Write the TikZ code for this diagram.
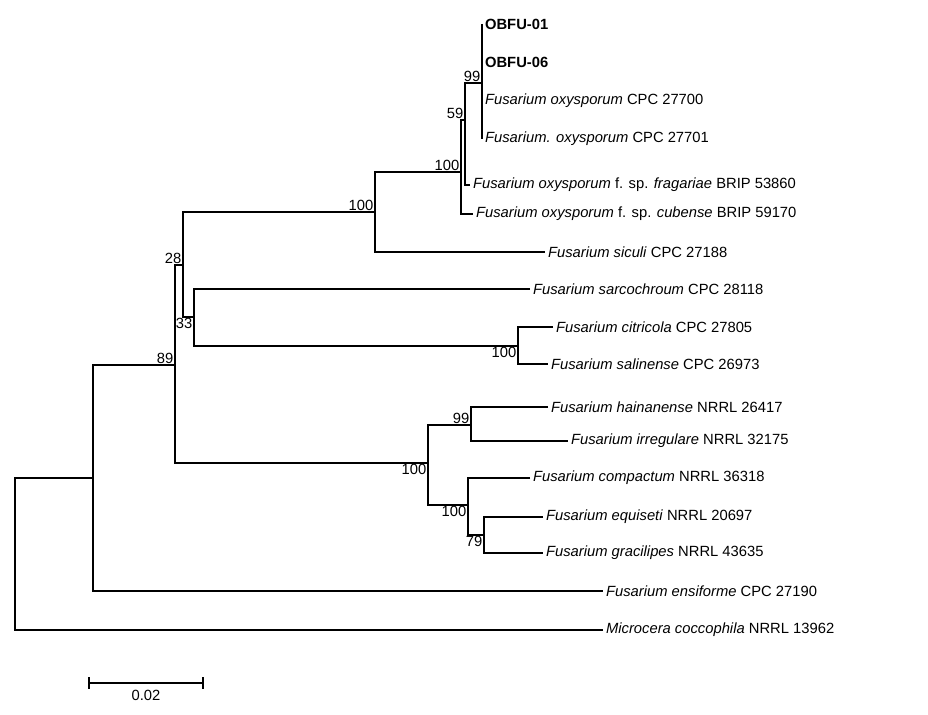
\documentclass[tikz,border=0pt]{standalone}
\usepackage{fontspec}
\setmainfont{Liberation Sans}
\usetikzlibrary{calc}
\tikzset{
  br/.style={line width=0.9pt},
  leaf/.style={anchor=west, inner sep=2pt, font=\fontsize{10.5}{12}\selectfont},
  bs/.style={inner sep=1pt, font=\fontsize{10.5}{12}\selectfont}
}
\begin{document}
\begin{tikzpicture}[x=0.025cm,y=-0.025cm]
\useasboundingbox (0,0) rectangle (928,715);
% internal nodes
\coordinate (r) at (15,554);
\coordinate (n93) at (93,478);
\coordinate (n175) at (175,365);
\coordinate (n183) at (183,265);
\coordinate (n375) at (375,212);
\coordinate (nA) at (461,172);
\coordinate (n465) at (465,120);
\coordinate (n482) at (482,83);
\coordinate (n194) at (194,317);
\coordinate (n518) at (518,346);
\coordinate (n428) at (428,463);
\coordinate (n471) at (471,425);
\coordinate (n468) at (468,505);
\coordinate (n484) at (484,535);
% tips
\coordinate (t1) at (482,24);
\coordinate (t2) at (482,62);
\coordinate (t3) at (482,101);
\coordinate (t4) at (482,139);
\coordinate (t5) at (470,185);
\coordinate (t6) at (473,214);
\coordinate (t7) at (545,252);
\coordinate (t8) at (530,289);
\coordinate (t9) at (553,327);
\coordinate (t10) at (548,364);
\coordinate (t11) at (548,407);
\coordinate (t12) at (568,441);
\coordinate (t13) at (530,478);
\coordinate (t14) at (543,517);
\coordinate (t15) at (543,553);
\coordinate (t16) at (603,591);
\coordinate (t17) at (603,630);
% branches
\draw[br] (n93) -| (r) |- (t17);
\draw[br] (n175) -| (n93) |- (t16);
\draw[br] (n183) -| (n175) |- (n428);
\draw[br] (n375) -| (n183) |- (n194);
\draw[br] (nA) -| (n375) |- (t7);
\draw[br] (n465) -| (nA) |- (t6);
\draw[br] (n482) -| (n465) |- (t5);
\draw[br] (t1) -- (t4);
\draw[br] (t8) -| (n194) |- (n518);
\draw[br] (t9) -| (n518) |- (t10);
\draw[br] (n471) -| (n428) |- (n468);
\draw[br] (t11) -| (n471) |- (t12);
\draw[br] (t13) -| (n468) |- (n484);
\draw[br] (t14) -| (n484) |- (t15);
% tip labels
\node[leaf] (l1) at (t1) {\textbf{OBFU-01}};
\node[leaf] (l2) at (t2) {\textbf{OBFU-06}};
\node[leaf] (l3) at (t3) {\textit{Fusarium oxysporum} CPC 27700};
\node[leaf] (l4) at (t4) {\textit{Fusarium. oxysporum} CPC 27701};
\node[leaf] (l5) at (t5) {\textit{Fusarium oxysporum} f. sp. \textit{fragariae} BRIP 53860};
\node[leaf] (l6) at (t6) {\textit{Fusarium oxysporum} f. sp. \textit{cubense} BRIP 59170};
\node[leaf] (l7) at (t7) {\textit{Fusarium siculi} CPC 27188};
\node[leaf] (l8) at (t8) {\textit{Fusarium sarcochroum} CPC 28118};
\node[leaf] (l9) at (t9) {\textit{Fusarium citricola} CPC 27805};
\node[leaf] (l10) at (t10) {\textit{Fusarium salinense} CPC 26973};
\node[leaf] (l11) at (t11) {\textit{Fusarium hainanense} NRRL 26417};
\node[leaf] (l12) at (t12) {\textit{Fusarium irregulare} NRRL 32175};
\node[leaf] (l13) at (t13) {\textit{Fusarium compactum} NRRL 36318};
\node[leaf] (l14) at (t14) {\textit{Fusarium equiseti} NRRL 20697};
\node[leaf] (l15) at (t15) {\textit{Fusarium gracilipes} NRRL 43635};
\node[leaf] (l16) at (t16) {\textit{Fusarium ensiforme} CPC 27190};
\node[leaf] (l17) at (t17) {\textit{Microcera coccophila} NRRL 13962};
% bootstrap values
\node[bs, above left] (b1) at (n482) {99};
\node[bs, above left] (b2) at (n465) {59};
\node[bs, above left] (b3) at (nA) {100};
\node[bs, above left] (b4) at (n375) {100};
\node[bs, above left] (b5) at (n183) {28};
\node[bs, below left] (b6) at (n194) {33};
\node[bs, above left] (b7) at (n175) {89};
\node[bs, below left] (b8) at (n518) {100};
\node[bs, above left] (b9) at (n471) {99};
\node[bs, below left] (b10) at (n428) {100};
\node[bs, below left] (b11) at (n468) {100};
\node[bs, below left] (b12) at (n484) {79};
% scale bar
\coordinate (s1) at (89,683);
\coordinate (s2) at (203,683);
\draw[br] (s1) -- (s2);
\draw[br] ([yshift=0.15cm]s1) -- ([yshift=-0.15cm]s1);
\draw[br] ([yshift=0.15cm]s2) -- ([yshift=-0.15cm]s2);
\node[bs, below=4pt] (sl) at ($(s1)!0.5!(s2)$) {0.02};
\end{tikzpicture}
\end{document}
